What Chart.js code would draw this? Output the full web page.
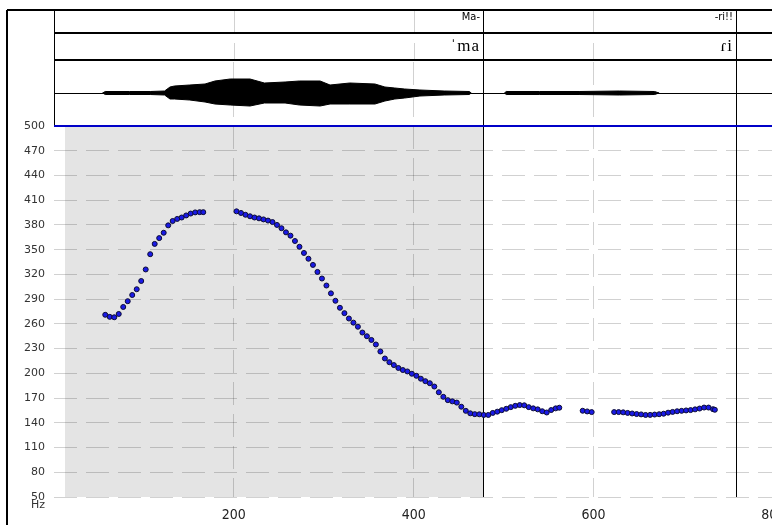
<!DOCTYPE html>
<html><head><meta charset="utf-8">
<script src="https://cdn.jsdelivr.net/npm/chart.js@4/dist/chart.umd.min.js"></script>
<style>html,body{margin:0;padding:0;overflow:hidden;background:#fff;width:772px;height:525px}</style>
</head><body>
<div style="position:relative;width:830px;height:525px"><canvas id="c" width="830" height="525"></canvas></div>
<script>
// ---- data ----
const xTickValues = [200, 400, 600, 800];
const yTickValues = [50, 80, 110, 140, 170, 200, 230, 260, 290, 320, 350, 380, 410, 440, 470, 500];
const selection = [12, 476.7];          // shaded interval (ms)
const tierBoundaries = [476.7, 759];    // interval ends (ms)
const wordLabels = ['Ma-', '-ri!!'];
const phoneLabels = ['ˈma', 'ɾi'];

const f0Times1 = [57,62,67,72,77,82,87,92,97,102,107,112,117,122,127,132,137,142,147,152,157,162,166];
const f0Hz1 = [271,268.5,268,272,280.5,287.5,295,302,312,326,344.5,357,364,370.5,379.5,384.8,387.3,389,391.5,393.8,395.2,395.5,395.5];

const f0Times2 = [203,208,213,218,223,228,233,238,243,248,253,258,263,268,273,278,283,288,293,298,303,308,313,318,323,328,333,338,343,348,353,358,363,368,373,378,383,388,393,398,403,408,413,418,423,428,433,438,443,448,453,458,463,468,473,478,483,488,493,498,503,508,513,518,523,528,533,538,543,548,553,558,562];
const f0Hz2 = [396.5,394.5,392.3,390.5,389,388,386.7,385.3,383.5,380,376,371,367,360.5,353.5,346,339,331.5,323,315,306.5,297,288,279.5,273,266.5,261.5,256.5,249.5,245,240.5,235,226.5,218,213.5,210,206.5,204,202.3,199.5,197,193.5,190.5,188,184,177,171.5,167.5,166,164.5,159.5,154.5,151.5,150.5,150.3,149.5,149.5,152,153.5,155.3,157,159,160.6,161.5,161.2,159,157.5,156.3,154,152.5,155.5,157.5,158.3];

const f0Times3 = [588,593,598];
const f0Hz3 = [154.6,153.8,153];

const f0Times4 = [623,628,633,638,643,648,653,658,663,668,673,678,683,688,693,698,703,708,713,718,723,728,733,735];
const f0Hz4 = [153,153,152.7,152,151.3,150.6,150.2,149.5,149.6,150,150.4,151,152.3,153.2,154,154.5,155,155.4,156.3,157.3,158.5,158.5,156.5,155.8];

const wave1Times = [54,57,84,107,123,129,134,151,168,179,196,218,234,257,273,296,307,329,357,368,379,390,407,434,462,464];
const wave1Up    = [0,1.5,1.5,1.5,2,6,7,8,9,12,14,14,10,11,12,12,8,10,9,6,5,4,3,2,1.5,0];
const wave1Down  = [0,1.5,1.5,1.5,2,6,6,7,9,11,12,13,10,10,12,13,11,11,11,8,6,5,3,2,1.5,0];
const wave2Times = [501,503,540,584,629,668,673];
const wave2Up    = [0,1.5,1.5,1.5,2,1.5,0];
const wave2Down  = [0,1.5,1.5,1.5,2,1.5,0];

// ---- build ----
const pts = (t, v, sign) => t.map((x, i) => ({x, y: (sign || 1) * v[i]}));
const f0Points = [].concat(pts(f0Times1, f0Hz1), pts(f0Times2, f0Hz2), pts(f0Times3, f0Hz3), pts(f0Times4, f0Hz4));

const waveDs = (data) => ({
  data, yAxisID: 'yw', borderColor: '#000', borderWidth: 1, backgroundColor: '#000',
  fill: {value: 0}, pointRadius: 0, tension: 0, showLine: true
});

const GRID = 'rgba(0,0,0,0.18)';
const DASH = [23, 9];

function seg(ctx, x1, y1, x2, y2) { ctx.beginPath(); ctx.moveTo(x1, y1); ctx.lineTo(x2, y2); ctx.stroke(); }

const framePlugin = {
  id: 'framePlugin',
  beforeDraw(chart) {
    const {ctx, scales: {x, y}} = chart;
    const l = x.getPixelForValue(selection[0]), r = x.getPixelForValue(selection[1]);
    ctx.save();
    ctx.fillStyle = '#e4e4e4';
    ctx.fillRect(Math.round(l), y.top, Math.round(r) - Math.round(l), y.bottom - y.top);
    ctx.restore();
  },
  beforeDatasetsDraw(chart) {
    const {ctx, chartArea, scales: {x, y, yw}} = chart;
    const W = chart.width, H = chart.height;
    const L = chartArea.left;
    ctx.save();
    ctx.strokeStyle = GRID; ctx.lineWidth = 1; ctx.setLineDash(DASH);
    xTickValues.forEach(v => { const px = Math.round(x.getPixelForValue(v)) + 0.5; seg(ctx, px, 11, px, chartArea.top); });
    ctx.setLineDash([]);
    ctx.strokeStyle = '#000'; ctx.lineWidth = 1;
    const cy = Math.round(yw.getPixelForValue(0)) + 0.5;
    seg(ctx, L, cy, W, cy);
    tierBoundaries.forEach(v => { const px = Math.round(x.getPixelForValue(v)) + 0.5; seg(ctx, px, 10, px, y.bottom); });
    seg(ctx, L + 0.5, 10, L + 0.5, y.top);
    ctx.lineWidth = 2;
    seg(ctx, 7, 10, W, 10);
    seg(ctx, 7, 10, 7, H);
    seg(ctx, L, 33, W, 33);
    seg(ctx, L, 60, W, 60);
    ctx.strokeStyle = '#0000c8';
    seg(ctx, L, y.top, W, y.top);
    ctx.fillStyle = '#000';
    ctx.textAlign = 'right';
    ctx.textBaseline = 'alphabetic';
    ctx.font = '11px "Liberation Sans Narrow", "DejaVu Sans Condensed", "Liberation Sans", sans-serif';
    tierBoundaries.forEach((v, i) => ctx.fillText(wordLabels[i], Math.round(x.getPixelForValue(v)) - 3, 20));
    ctx.font = '17px "Liberation Serif", "DejaVu Serif", serif';
    try { ctx.letterSpacing = '1px'; } catch (e) {}
    tierBoundaries.forEach((v, i) => ctx.fillText(phoneLabels[i], Math.round(x.getPixelForValue(v)) - 3, 51));
    try { ctx.letterSpacing = '0px'; } catch (e) {}
    ctx.font = '11px "DejaVu Sans", sans-serif';
    ctx.fillStyle = '#333';
    ctx.textBaseline = 'middle';
    ctx.fillText('Hz', 45, 505);
    ctx.restore();
  }
};

new Chart(document.getElementById('c'), {
  type: 'line',
  data: {
    datasets: [
      waveDs(pts(wave1Times, wave1Up)),
      waveDs(pts(wave1Times, wave1Down, -1)),
      waveDs(pts(wave2Times, wave2Up)),
      waveDs(pts(wave2Times, wave2Down, -1)),
      {
        data: f0Points, yAxisID: 'y', showLine: false,
        pointRadius: 2.5, pointBorderWidth: 1,
        pointBackgroundColor: '#1a1ae6', pointBorderColor: '#0d0d35'
      }
    ]
  },
  options: {
    responsive: false, animation: false, events: [],
    layout: {padding: {top: 61, left: 0, right: 0, bottom: 0}},
    plugins: {legend: {display: false}, tooltip: {enabled: false}},
    scales: {
      x: {
        type: 'linear', min: 0, max: 857.5,
        afterBuildTicks: s => { s.ticks = xTickValues.map(v => ({value: v})); },
        afterFit: s => { s.height = 28; },
        ticks: {autoSkip: false, maxRotation: 0, padding: 10, color: '#222', font: {family: '"Liberation Sans Narrow", "DejaVu Sans Condensed", sans-serif', size: 14}},
        grid: {color: GRID, drawTicks: false},
        border: {display: false, dash: DASH, dashOffset: 31}
      },
      y: {
        stack: 'v', stackWeight: 371, min: 50, max: 500,
        afterBuildTicks: s => { s.ticks = yTickValues.map(v => ({value: v})); },
        afterFit: s => { s.width = 54; },
        ticks: {autoSkip: false, padding: 9, color: '#333', font: {family: '"DejaVu Sans", sans-serif', size: 11}},
        grid: {color: GRID, drawTicks: false},
        border: {display: false, dash: DASH, dashOffset: 0}
      },
      yw: {
        stack: 'v', stackWeight: 65, min: -33, max: 32, position: 'left',
        afterFit: s => { s.width = 54; },
        ticks: {display: false},
        grid: {display: false},
        border: {display: false}
      }
    }
  },
  plugins: [framePlugin]
});
</script>
</body></html>
